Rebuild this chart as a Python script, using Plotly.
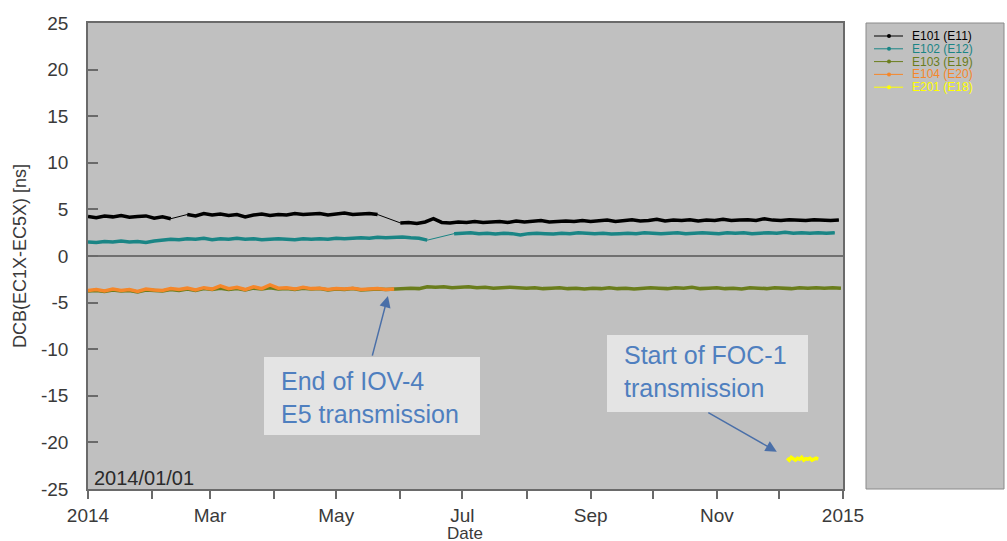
import pandas as pd
import plotly.graph_objects as go

# ---- data: DCB(EC1X-EC5X) in ns, sampled every few days ----
STEP = "4D"

e101_seg1_start = "2014-01-01"
e101_seg1 = [4.25, 4.1, 4.3, 4.2, 4.35, 4.15, 4.25, 4.3, 4.05, 4.2, 4.0]
e101_seg2_start = "2014-02-18"
e101_seg2 = [4.45, 4.3, 4.55, 4.4, 4.5, 4.35, 4.45, 4.2, 4.4, 4.5, 4.35, 4.45,
             4.4, 4.55, 4.45, 4.5, 4.55, 4.4, 4.5, 4.6, 4.45, 4.5, 4.55, 4.45]
e101_seg3_start = "2014-06-01"
e101_seg3 = [3.55, 3.6, 3.5, 3.65, 4.0, 3.6, 3.55, 3.65, 3.6, 3.7,
             3.6, 3.65, 3.7, 3.6, 3.75, 3.65, 3.7, 3.8, 3.65, 3.7,
             3.75, 3.7, 3.8, 3.7, 3.75, 3.85, 3.7, 3.8, 3.9, 3.75,
             3.8, 3.95, 3.75, 3.85, 3.8, 3.9, 3.75, 3.85, 3.8, 3.95,
             3.8, 3.85, 3.9, 3.8, 4.0, 3.85, 3.8, 3.9, 3.85, 3.8,
             3.9, 3.85, 3.8, 3.85]

e102_seg1_start = "2014-01-01"
e102_seg1 = [1.5, 1.45, 1.55, 1.5, 1.6, 1.5, 1.55, 1.45,
             1.6, 1.7, 1.8, 1.75, 1.85, 1.8, 1.9,
             1.75, 1.85, 1.8, 1.9, 1.8, 1.85, 1.75, 1.8, 1.85, 1.8, 1.75, 1.85, 1.8,
             1.85, 1.8, 1.9, 1.85, 1.9, 1.95, 1.9, 2.0, 1.95, 2.0, 2.05, 1.95, 1.9, 1.7]
e102_seg2_start = "2014-06-27"
e102_seg2 = [2.4, 2.45, 2.5, 2.4, 2.45, 2.35, 2.45, 2.4, 2.25, 2.4,
             2.45, 2.4, 2.35, 2.45, 2.4, 2.5, 2.45, 2.4, 2.45, 2.35,
             2.4, 2.45, 2.4, 2.5, 2.45, 2.4, 2.45, 2.5, 2.4, 2.45,
             2.5, 2.45, 2.4, 2.5, 2.45, 2.5, 2.4, 2.45, 2.5, 2.45,
             2.55, 2.45, 2.5, 2.45, 2.5, 2.45, 2.5]

e103_start = "2014-01-01"
e103 = [-3.75, -3.7, -3.8, -3.65, -3.75, -3.7, -3.85, -3.65, -3.7, -3.75,
        -3.6, -3.7, -3.55, -3.7, -3.5, -3.6, -3.45, -3.6, -3.5, -3.65,
        -3.45, -3.55, -3.4, -3.55, -3.5, -3.6, -3.45, -3.55, -3.5, -3.65,
        -3.55, -3.6, -3.5, -3.65, -3.6, -3.55, -3.6,
        -3.55, -3.5, -3.45, -3.5, -3.3, -3.35, -3.3, -3.4, -3.35, -3.3,
        -3.4, -3.35, -3.45, -3.4, -3.35, -3.4, -3.45, -3.4, -3.5, -3.45,
        -3.4, -3.5, -3.45, -3.55, -3.45, -3.5, -3.4, -3.5, -3.45, -3.55,
        -3.5, -3.4, -3.45, -3.5, -3.4, -3.45, -3.35, -3.5, -3.45, -3.4,
        -3.5, -3.45, -3.55, -3.4, -3.45, -3.5, -3.4, -3.45, -3.5, -3.4,
        -3.45, -3.4, -3.45, -3.4, -3.45]

e104_start = "2014-01-01"
e104 = [-3.7, -3.6, -3.75, -3.55, -3.7, -3.6, -3.8, -3.55, -3.65, -3.7,
        -3.5, -3.6, -3.45, -3.65, -3.4, -3.55, -3.2, -3.5, -3.35, -3.6,
        -3.3, -3.5, -3.1, -3.45, -3.4, -3.55, -3.35, -3.5, -3.45, -3.6,
        -3.5, -3.55, -3.45, -3.6, -3.55, -3.5, -3.6, -3.55]

e201_start = "2014-12-05"
e201 = [-21.7, -21.9, -21.6, -21.8, -21.9, -21.7, -21.8, -21.6,
        -21.9, -21.75, -21.8, -21.7, -21.9, -21.8, -21.7, -21.8]

month_ticks = pd.date_range("2014-01-01", "2015-01-01", freq="MS")
month_labels = ["2014", "", "Mar", "", "May", "", "Jul", "", "Sep", "", "Nov", "", "2015"]
y_ticks = [25, 20, 15, 10, 5, 0, -5, -10, -15, -20, -25]

names = ["E101 (E11)", "E102 (E12)", "E103 (E19)", "E104 (E20)", "E201 (E18)"]
colors = ["#000000", "#1a8585", "#6a7d1c", "#f5872a", "#ffff00"]

FONT = "Liberation Sans, Arial, sans-serif"
TEXT = "#3a3a3a"
BLUE = "#4f7fbf"

# plot-area geometry in pixels (for decorations placed in paper space)
L, R, T, B = 88, 843, 23, 489


def px(xp):
    return (xp - L) / (R - L)


def py(yp):
    return (B - yp) / (B - T)


def seg(start, vals, freq=STEP):
    return list(pd.date_range(start, periods=len(vals), freq=freq)), list(vals)


def add_series(fig, segments, color):
    # thin line joining everything (bridges the data gaps), thick noisy band per segment
    xs_all, ys_all, xs_thick, ys_thick = [], [], [], []
    for x, y in segments:
        xs_all += x
        ys_all += y
        xs_thick += x + [None]
        ys_thick += y + [None]
    fig.add_trace(go.Scatter(x=xs_all, y=ys_all, mode="lines",
                             line=dict(color=color, width=1), showlegend=False,
                             hoverinfo="skip"))
    fig.add_trace(go.Scatter(x=xs_thick, y=ys_thick, mode="lines",
                             line=dict(color=color, width=3.5), showlegend=False,
                             connectgaps=False))


fig = go.Figure()
add_series(fig, [seg(e101_seg1_start, e101_seg1), seg(e101_seg2_start, e101_seg2),
                 seg(e101_seg3_start, e101_seg3)], colors[0])
add_series(fig, [seg(e102_seg1_start, e102_seg1), seg(e102_seg2_start, e102_seg2)], colors[1])
add_series(fig, [seg(e103_start, e103)], colors[2])
add_series(fig, [seg(e104_start, e104)], colors[3])
add_series(fig, [seg(e201_start, e201, "1D")], colors[4])

shapes = []
annotations = []

# legend panel on the right
shapes.append(dict(type="rect", xref="paper", yref="paper",
                   x0=px(866), x1=px(1004), y0=py(489), y1=py(23),
                   fillcolor="#c0c0c0", line=dict(color="#8a8a8a", width=1), layer="below"))
leg_y = [36, 48.8, 61.6, 74.4, 87.2]
for name, color, yy in zip(names, colors, leg_y):
    shapes.append(dict(type="line", xref="paper", yref="paper",
                       x0=px(874), x1=px(903), y0=py(yy), y1=py(yy),
                       line=dict(color=color, width=1)))
    shapes.append(dict(type="circle", xref="paper", yref="paper",
                       x0=px(887), x1=px(891), y0=py(yy + 2), y1=py(yy - 2),
                       fillcolor=color, line=dict(color=color, width=0)))
    annotations.append(dict(xref="paper", yref="paper", x=px(910), y=py(yy),
                            xanchor="left", yanchor="middle", showarrow=False,
                            text=name, font=dict(family=FONT, size=12, color=color)))

# date stamp in the lower-left corner of the plot
annotations.append(dict(xref="paper", yref="paper", x=px(92), y=py(478),
                        xanchor="left", yanchor="middle", showarrow=False,
                        text="2014/01/01", font=dict(family=FONT, size=20, color="#2a2a2a")))

# x-axis title, sitting right under the tick labels
annotations.append(dict(xref="paper", yref="paper", x=px(465), y=py(533),
                        xanchor="center", yanchor="middle", showarrow=False,
                        text="Date", font=dict(family=FONT, size=17, color=TEXT)))

# callout boxes
shapes.append(dict(type="rect", xref="paper", yref="paper",
                   x0=px(264), x1=px(480), y0=py(435), y1=py(357),
                   fillcolor="#e4e4e4", line=dict(width=0)))
annotations.append(dict(xref="paper", yref="paper", x=px(279), y=py(397),
                        xanchor="left", yanchor="middle", showarrow=False, align="left",
                        text="End of IOV-4<br>E5 transmission",
                        font=dict(family=FONT, size=25, color=BLUE)))
shapes.append(dict(type="rect", xref="paper", yref="paper",
                   x0=px(607), x1=px(808), y0=py(412), y1=py(335),
                   fillcolor="#e4e4e4", line=dict(width=0)))
annotations.append(dict(xref="paper", yref="paper", x=px(622), y=py(372),
                        xanchor="left", yanchor="middle", showarrow=False, align="left",
                        text="Start of FOC-1<br>transmission",
                        font=dict(family=FONT, size=25, color=BLUE)))

# arrows pointing at the events
annotations.append(dict(x="2014-05-26", y=-4.3, xref="x", yref="y", text="",
                        showarrow=True, arrowhead=2, arrowsize=1.5, arrowwidth=1.5,
                        arrowcolor="#4a6fa8", ax=-16, ay=61))
annotations.append(dict(x="2014-11-30", y=-21.0, xref="x", yref="y", text="",
                        showarrow=True, arrowhead=2, arrowsize=1.5, arrowwidth=1.5,
                        arrowcolor="#4a6fa8", ax=-70, ay=-40))

fig.update_layout(
    width=1007, height=541,
    margin=dict(l=L, r=1007 - R, t=T, b=541 - B, pad=0, autoexpand=False),
    paper_bgcolor="white", plot_bgcolor="#c0c0c0",
    font=dict(family=FONT, size=19, color=TEXT),
    showlegend=False,
    shapes=shapes, annotations=annotations,
)
fig.update_xaxes(
    range=["2014-01-01", "2015-01-01"], type="date", automargin=False,
    tickvals=list(month_ticks), ticktext=month_labels,
    ticks="outside", ticklen=8, tickwidth=1.5, tickcolor="#6a6a6a",
    showline=True, linecolor="#6a6a6a", linewidth=1.5, mirror=True,
    showgrid=False, zeroline=False,
    ticklabelstandoff=0,
    tickfont=dict(family=FONT, size=19, color=TEXT),
)
fig.update_yaxes(
    range=[-25, 25], tickvals=y_ticks, ticktext=[str(v) for v in y_ticks],
    ticks="inside", ticklen=10, tickwidth=1.5, tickcolor="#6a6a6a",
    showline=True, linecolor="#6a6a6a", linewidth=1.5, mirror=True, automargin=False,
    showgrid=False, zeroline=True, zerolinecolor="#707070", zerolinewidth=1.5,
    ticklabelstandoff=14,
    tickfont=dict(family=FONT, size=19, color=TEXT),
    title=dict(text="DCB(EC1X-EC5X) [ns]", standoff=10,
               font=dict(family=FONT, size=18, color=TEXT)),
)

fig.write_html("out.html")
